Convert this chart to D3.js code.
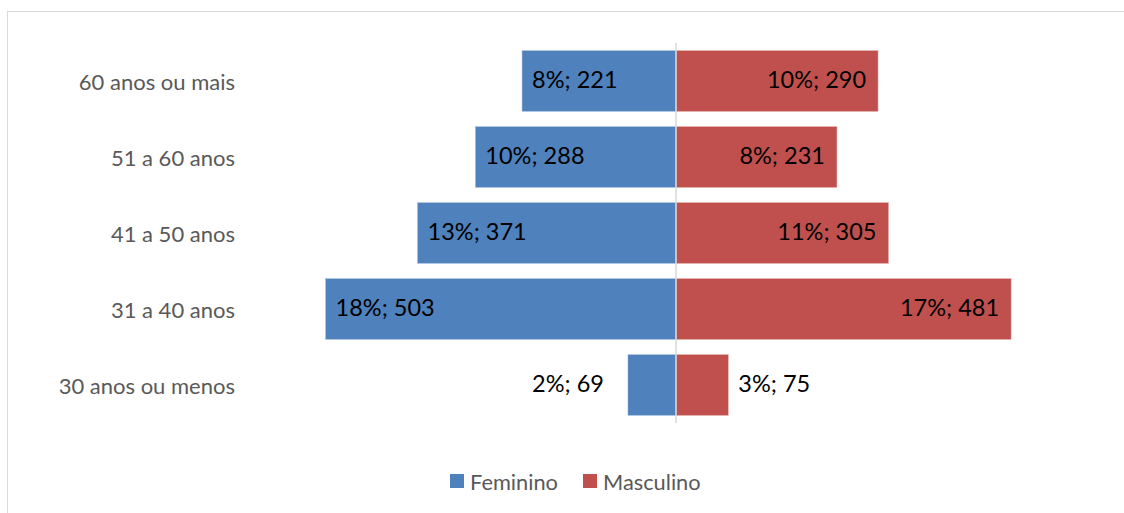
<!DOCTYPE html>
<html>
<head>
<meta charset="utf-8">
<script src="https://cdn.jsdelivr.net/npm/d3@7"></script>
<style>
  body { margin: 0; background: #fff; }
  text { font-family: Lato, "Open Sans", sans-serif; }
</style>
</head>
<body>
<div id="chart"></div>
<script>
// Chart data (bottom to top)
var categories = ["30 anos ou menos", "31 a 40 anos", "41 a 50 anos", "51 a 60 anos", "60 anos ou mais"];
var feminino = [69, 503, 371, 288, 221];
var masculino = [75, 481, 305, 231, 290];
var femininoPct = [2, 18, 13, 10, 8];
var masculinoPct = [3, 17, 11, 8, 10];
var seriesNames = ["Feminino", "Masculino"];
var seriesColors = ["#4f81bd", "#c0504d"];

var svgWidth = 1124;
var svgHeight = 513;

var svg = d3.select("#chart")
  .append("svg")
  .attr("width", svgWidth)
  .attr("height", svgHeight);

// outer chart border
svg.append("rect")
  .attr("x", 7.5).attr("y", 11.5)
  .attr("width", 1140).attr("height", 540)
  .attr("fill", "none")
  .attr("stroke", "#d9d9d9");

// scales
var x = d3.scaleLinear().domain([-600, 600]).range([258, 1094]);
var y = d3.scaleBand()
  .domain(categories.slice().reverse())
  .range([43, 423])
  .paddingInner(0.2)
  .paddingOuter(0.1);

var rows = categories.map(function(c, i) {
  return { cat: c, f: feminino[i], m: masculino[i], fp: femininoPct[i], mp: masculinoPct[i] };
});

// category labels
svg.append("g").selectAll("text")
  .data(categories)
  .join("text")
  .attr("x", 235)
  .attr("y", d => y(d) + y.bandwidth() / 2)
  .attr("text-anchor", "end")
  .attr("dominant-baseline", "central")
  .attr("fill", "#595959")
  .style("font-size", "22px")
  .text(d => d);

// feminino bars (to the left)
svg.append("g").selectAll("rect")
  .data(rows)
  .join("rect")
  .attr("x", d => x(-d.f))
  .attr("y", d => y(d.cat))
  .attr("width", d => x(0) - x(-d.f))
  .attr("height", y.bandwidth())
  .attr("fill", seriesColors[0])
  .attr("stroke", "#a7c0de")
  .attr("stroke-width", 0.5);

// masculino bars (to the right)
svg.append("g").selectAll("rect")
  .data(rows)
  .join("rect")
  .attr("x", x(0))
  .attr("y", d => y(d.cat))
  .attr("width", d => x(d.m) - x(0))
  .attr("height", y.bandwidth())
  .attr("fill", seriesColors[1])
  .attr("stroke", "#e0a8a6")
  .attr("stroke-width", 0.5);

// center axis line
svg.append("line")
  .attr("x1", x(0)).attr("x2", x(0))
  .attr("y1", 43).attr("y2", 423)
  .attr("stroke", "#d9d9d9")
  .attr("stroke-width", 1.5);

// data labels - inside the bar when it fits, outside otherwise
svg.append("g").selectAll("text")
  .data(rows)
  .join("text")
  .attr("x", d => d.f > 100 ? x(-d.f) + 10 : x(-d.f) - 24)
  .attr("y", d => y(d.cat) + y.bandwidth() / 2 - 2)
  .attr("text-anchor", d => d.f > 100 ? "start" : "end")
  .attr("dominant-baseline", "central")
  .attr("fill", "#000")
  .style("font-size", "23.5px")
  .text(d => d.fp + "%; " + d.f);

svg.append("g").selectAll("text")
  .data(rows)
  .join("text")
  .attr("x", d => d.m > 100 ? x(d.m) - 12 : x(d.m) + 10)
  .attr("y", d => y(d.cat) + y.bandwidth() / 2 - 2)
  .attr("text-anchor", d => d.m > 100 ? "end" : "start")
  .attr("dominant-baseline", "central")
  .attr("fill", "#000")
  .style("font-size", "23.5px")
  .text(d => d.mp + "%; " + d.m);

// legend
var legendX = [450, 583];
var legend = svg.append("g").selectAll("g")
  .data(seriesNames)
  .join("g")
  .attr("transform", (d, i) => `translate(${legendX[i]}, 474)`);

legend.append("rect")
  .attr("width", 14).attr("height", 14)
  .attr("fill", (d, i) => seriesColors[i]);

legend.append("text")
  .attr("x", 20).attr("y", 7)
  .attr("dominant-baseline", "central")
  .attr("fill", "#595959")
  .style("font-size", "21.8px")
  .text(d => d);
</script>
</body>
</html>
